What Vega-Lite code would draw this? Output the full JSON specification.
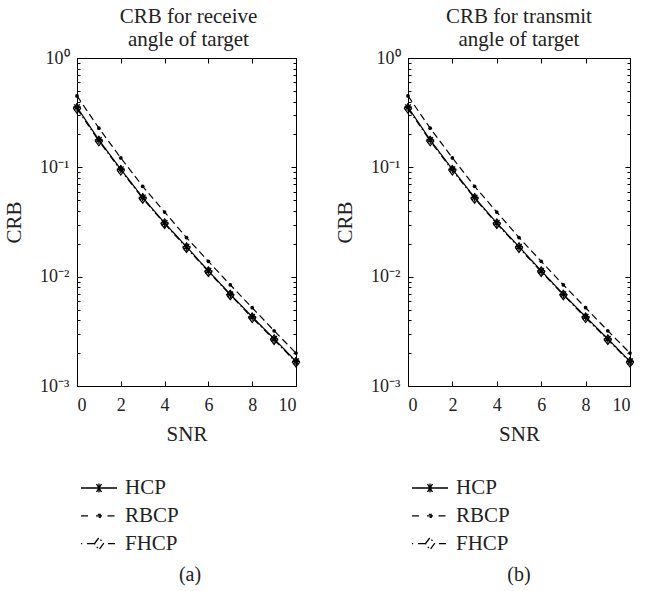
{
  "$schema": "https://vega.github.io/schema/vega-lite/v6.json",
  "background": "white",
  "padding": {"left": 3, "top": 5, "right": 5, "bottom": 5},
  "spacing": 29,
  "config": {
    "font": "Liberation Serif",
    "view": {"stroke": "black", "strokeWidth": 1},
    "axis": {"labelFont": "Liberation Serif", "titleFont": "Liberation Serif", "labelColor": "#222", "titleColor": "#222", "titleFontWeight": "normal", "labelFontSize": 18, "titleFontSize": 21, "domainColor": "black", "tickColor": "black", "grid": false},
    "legend": {"labelFont": "Liberation Serif", "labelFontSize": 21, "labelColor": "#222", "orient": "bottom", "direction": "vertical"},
    "title": {"font": "Liberation Serif", "fontSize": 21, "fontWeight": "normal", "color": "#222"}
  },
  "datasets": {
    "crb": [
      {"snr": 0, "series": "HCP", "crb": 0.355}, {"snr": 1, "series": "HCP", "crb": 0.178}, {"snr": 2, "series": "HCP", "crb": 0.096}, {"snr": 3, "series": "HCP", "crb": 0.053}, {"snr": 4, "series": "HCP", "crb": 0.031}, {"snr": 5, "series": "HCP", "crb": 0.0188}, {"snr": 6, "series": "HCP", "crb": 0.0113}, {"snr": 7, "series": "HCP", "crb": 0.0069}, {"snr": 8, "series": "HCP", "crb": 0.0043}, {"snr": 9, "series": "HCP", "crb": 0.0027}, {"snr": 10, "series": "HCP", "crb": 0.00168},
      {"snr": 0, "series": "RBCP", "crb": 0.45}, {"snr": 1, "series": "RBCP", "crb": 0.228}, {"snr": 2, "series": "RBCP", "crb": 0.122}, {"snr": 3, "series": "RBCP", "crb": 0.067}, {"snr": 4, "series": "RBCP", "crb": 0.039}, {"snr": 5, "series": "RBCP", "crb": 0.0228}, {"snr": 6, "series": "RBCP", "crb": 0.0138}, {"snr": 7, "series": "RBCP", "crb": 0.0084}, {"snr": 8, "series": "RBCP", "crb": 0.0052}, {"snr": 9, "series": "RBCP", "crb": 0.0032}, {"snr": 10, "series": "RBCP", "crb": 0.002},
      {"snr": 0, "series": "FHCP", "crb": 0.345}, {"snr": 1, "series": "FHCP", "crb": 0.174}, {"snr": 2, "series": "FHCP", "crb": 0.094}, {"snr": 3, "series": "FHCP", "crb": 0.052}, {"snr": 4, "series": "FHCP", "crb": 0.0305}, {"snr": 5, "series": "FHCP", "crb": 0.0184}, {"snr": 6, "series": "FHCP", "crb": 0.0111}, {"snr": 7, "series": "FHCP", "crb": 0.0068}, {"snr": 8, "series": "FHCP", "crb": 0.0042}, {"snr": 9, "series": "FHCP", "crb": 0.00265}, {"snr": 10, "series": "FHCP", "crb": 0.00165}
    ]
  },
  "hconcat": [
    {
      "title": {"text": "(a)", "orient": "bottom", "anchor": "middle", "frame": "group", "offset": 10, "dx": 113, "fontSize": 20},
      "resolve": {"scale": {"shape": "independent", "strokeDash": "independent"}, "legend": {"shape": "independent"}},
      "vconcat": [
        {
          "width": 219, "height": 328,
          "title": {"text": ["CRB for receive", "angle of target"], "lineHeight": 23, "anchor": "middle", "frame": "group", "offset": -1, "dx": 2},
          "data": {"name": "crb"},
          "resolve": {"axis": {"x": "independent", "y": "independent"}},
          "layer": [
            {
              "mark": {"type": "point", "filled": false, "color": "black", "strokeWidth": 1.3, "opacity": 0},
              "encoding": {
                "x": {"field": "snr", "type": "quantitative", "scale": {"domain": [0, 10], "nice": false}, "axis": null},
                "y": {"field": "crb", "type": "quantitative", "scale": {"type": "log", "domain": [0.001, 1], "nice": false}, "axis": null},
                "shape": {"field": "series", "type": "nominal", "scale": {"domain": ["HCP", "RBCP", "FHCP"], "range": ["M-0.7,0H2.9M0.85,-0.4L1.35,0.4M1.35,-0.4L0.85,0.4M1.1,-0.45V0.45", "M-0.7,0H0.1M0.8,0H1.4M1.95,0H2.85M0.98,-0.15H1.22V0.15H0.98Z", "M-0.7,0H-0.58M-0.1,0H0.65M0.65,0L1.1,-0.6L1.55,0L1.1,0.6ZM2.0,0H2.85"]}, "legend": {"title": null, "symbolSize": 400, "symbolOpacity": 1, "symbolStrokeColor": "black", "symbolStrokeWidth": 1.3, "labelOffset": 26, "rowPadding": 6.8, "offset": 33}}
              }
            },
            {
              "mark": {"type": "line", "color": "black", "strokeWidth": 1.2},
              "encoding": {
                "x": {"field": "snr", "type": "quantitative", "axis": {"orient": "bottom", "values": [0, 2, 4, 6, 8, 10], "title": "SNR", "tickSize": -5, "labelPadding": 15, "titlePadding": 9}},
                "y": {"field": "crb", "type": "quantitative", "axis": {"orient": "left", "title": "CRB", "values": [0.001, 0.002, 0.003, 0.004, 0.005, 0.006, 0.007, 0.008, 0.009, 0.01, 0.02, 0.03, 0.04, 0.05, 0.06, 0.07, 0.08, 0.09, 0.1, 0.2, 0.3, 0.4, 0.5, 0.6, 0.7, 0.8, 0.9, 1], "tickSize": {"condition": {"test": "abs(log(datum.value)/LN10 - round(log(datum.value)/LN10)) < 0.001", "value": -5}, "value": -3}, "labelExpr": "abs(log(datum.value)/LN10 - round(log(datum.value)/LN10)) > 0.001 ? '' : round(log(datum.value)/LN10) == 0 ? '10⁰' : round(log(datum.value)/LN10) == -1 ? '10⁻¹' : round(log(datum.value)/LN10) == -2 ? '10⁻²' : '10⁻³'", "labelPadding": 13, "titlePadding": 15}},
                "strokeDash": {"field": "series", "type": "nominal", "scale": {"domain": ["HCP", "RBCP", "FHCP"], "range": [[1, 0], [7, 4], [7, 3, 1.5, 3]]}, "legend": null}
              }
            },
            {
              "transform": [{"filter": "datum.series == 'HCP'"}],
              "mark": {"type": "point", "shape": "M-1,0H1M0,-1V1M-0.7,-0.7L0.7,0.7M-0.7,0.7L0.7,-0.7", "size": 64, "filled": false, "color": "black", "strokeWidth": 1.3, "opacity": 1},
              "encoding": {
                "x": {"field": "snr", "type": "quantitative", "axis": {"orient": "top", "values": [0, 2, 4, 6, 8, 10], "labels": false, "title": null, "tickSize": -5}},
                "y": {"field": "crb", "type": "quantitative", "axis": {"orient": "right", "labels": false, "title": null, "values": [0.001, 0.002, 0.003, 0.004, 0.005, 0.006, 0.007, 0.008, 0.009, 0.01, 0.02, 0.03, 0.04, 0.05, 0.06, 0.07, 0.08, 0.09, 0.1, 0.2, 0.3, 0.4, 0.5, 0.6, 0.7, 0.8, 0.9, 1], "tickSize": {"condition": {"test": "abs(log(datum.value)/LN10 - round(log(datum.value)/LN10)) < 0.001", "value": -5}, "value": -3}}}
              }
            },
            {
              "transform": [{"filter": "datum.series == 'RBCP'"}],
              "mark": {"type": "point", "shape": "circle", "size": 14, "filled": true, "color": "black", "opacity": 1},
              "encoding": {
                "x": {"field": "snr", "type": "quantitative", "axis": null},
                "y": {"field": "crb", "type": "quantitative", "axis": null}
              }
            },
            {
              "transform": [{"filter": "datum.series == 'FHCP'"}],
              "mark": {"type": "point", "shape": "M0,-1L0.75,0L0,1L-0.75,0Z", "size": 90, "filled": false, "color": "black", "strokeWidth": 1.2, "opacity": 1},
              "encoding": {
                "x": {"field": "snr", "type": "quantitative", "axis": null},
                "y": {"field": "crb", "type": "quantitative", "axis": null}
              }
            }
          ]
        }
      ]
    },
    {
      "title": {"text": "(b)", "orient": "bottom", "anchor": "middle", "frame": "group", "offset": 10, "dx": 111, "fontSize": 20},
      "resolve": {"scale": {"shape": "independent", "strokeDash": "independent"}, "legend": {"shape": "independent"}},
      "vconcat": [
        {
          "width": 222, "height": 328,
          "title": {"text": ["CRB for transmit", "angle of target"], "lineHeight": 23, "anchor": "middle", "frame": "group", "offset": -1},
          "data": {"name": "crb"},
          "resolve": {"axis": {"x": "independent", "y": "independent"}},
          "layer": [
            {
              "mark": {"type": "point", "filled": false, "color": "black", "strokeWidth": 1.3, "opacity": 0},
              "encoding": {
                "x": {"field": "snr", "type": "quantitative", "scale": {"domain": [0, 10], "nice": false}, "axis": null},
                "y": {"field": "crb", "type": "quantitative", "scale": {"type": "log", "domain": [0.001, 1], "nice": false}, "axis": null},
                "shape": {"field": "series", "type": "nominal", "scale": {"domain": ["HCP", "RBCP", "FHCP"], "range": ["M-0.7,0H2.9M0.85,-0.4L1.35,0.4M1.35,-0.4L0.85,0.4M1.1,-0.45V0.45", "M-0.7,0H0.1M0.8,0H1.4M1.95,0H2.85M0.98,-0.15H1.22V0.15H0.98Z", "M-0.7,0H-0.58M-0.1,0H0.65M0.65,0L1.1,-0.6L1.55,0L1.1,0.6ZM2.0,0H2.85"]}, "legend": {"title": null, "symbolSize": 400, "symbolOpacity": 1, "symbolStrokeColor": "black", "symbolStrokeWidth": 1.3, "labelOffset": 26, "rowPadding": 6.8, "offset": 33}}
              }
            },
            {
              "mark": {"type": "line", "color": "black", "strokeWidth": 1.2},
              "encoding": {
                "x": {"field": "snr", "type": "quantitative", "axis": {"orient": "bottom", "values": [0, 2, 4, 6, 8, 10], "title": "SNR", "tickSize": -5, "labelPadding": 15, "titlePadding": 9}},
                "y": {"field": "crb", "type": "quantitative", "axis": {"orient": "left", "title": "CRB", "values": [0.001, 0.002, 0.003, 0.004, 0.005, 0.006, 0.007, 0.008, 0.009, 0.01, 0.02, 0.03, 0.04, 0.05, 0.06, 0.07, 0.08, 0.09, 0.1, 0.2, 0.3, 0.4, 0.5, 0.6, 0.7, 0.8, 0.9, 1], "tickSize": {"condition": {"test": "abs(log(datum.value)/LN10 - round(log(datum.value)/LN10)) < 0.001", "value": -5}, "value": -3}, "labelExpr": "abs(log(datum.value)/LN10 - round(log(datum.value)/LN10)) > 0.001 ? '' : round(log(datum.value)/LN10) == 0 ? '10⁰' : round(log(datum.value)/LN10) == -1 ? '10⁻¹' : round(log(datum.value)/LN10) == -2 ? '10⁻²' : '10⁻³'", "labelPadding": 13, "titlePadding": 15}},
                "strokeDash": {"field": "series", "type": "nominal", "scale": {"domain": ["HCP", "RBCP", "FHCP"], "range": [[1, 0], [7, 4], [7, 3, 1.5, 3]]}, "legend": null}
              }
            },
            {
              "transform": [{"filter": "datum.series == 'HCP'"}],
              "mark": {"type": "point", "shape": "M-1,0H1M0,-1V1M-0.7,-0.7L0.7,0.7M-0.7,0.7L0.7,-0.7", "size": 64, "filled": false, "color": "black", "strokeWidth": 1.3, "opacity": 1},
              "encoding": {
                "x": {"field": "snr", "type": "quantitative", "axis": {"orient": "top", "values": [0, 2, 4, 6, 8, 10], "labels": false, "title": null, "tickSize": -5}},
                "y": {"field": "crb", "type": "quantitative", "axis": {"orient": "right", "labels": false, "title": null, "values": [0.001, 0.002, 0.003, 0.004, 0.005, 0.006, 0.007, 0.008, 0.009, 0.01, 0.02, 0.03, 0.04, 0.05, 0.06, 0.07, 0.08, 0.09, 0.1, 0.2, 0.3, 0.4, 0.5, 0.6, 0.7, 0.8, 0.9, 1], "tickSize": {"condition": {"test": "abs(log(datum.value)/LN10 - round(log(datum.value)/LN10)) < 0.001", "value": -5}, "value": -3}}}
              }
            },
            {
              "transform": [{"filter": "datum.series == 'RBCP'"}],
              "mark": {"type": "point", "shape": "circle", "size": 14, "filled": true, "color": "black", "opacity": 1},
              "encoding": {
                "x": {"field": "snr", "type": "quantitative", "axis": null},
                "y": {"field": "crb", "type": "quantitative", "axis": null}
              }
            },
            {
              "transform": [{"filter": "datum.series == 'FHCP'"}],
              "mark": {"type": "point", "shape": "M0,-1L0.75,0L0,1L-0.75,0Z", "size": 90, "filled": false, "color": "black", "strokeWidth": 1.2, "opacity": 1},
              "encoding": {
                "x": {"field": "snr", "type": "quantitative", "axis": null},
                "y": {"field": "crb", "type": "quantitative", "axis": null}
              }
            }
          ]
        }
      ]
    }
  ],
  "resolve": {"scale": {"shape": "independent", "strokeDash": "independent"}, "legend": {"shape": "independent"}}
}
